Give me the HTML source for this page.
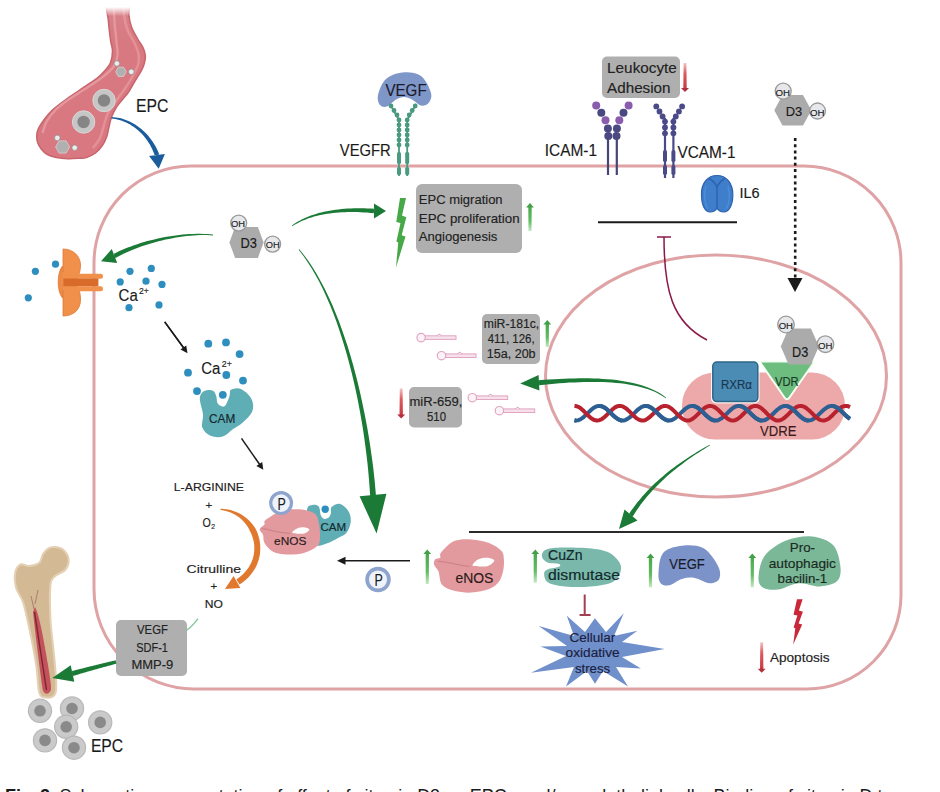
<!DOCTYPE html>
<html><head><meta charset="utf-8"><style>
html,body{margin:0;padding:0;background:#fff;width:940px;height:792px;overflow:hidden}
svg{display:block;font-family:"Liberation Sans",sans-serif}
</style></head><body>
<svg width="940" height="792" viewBox="0 0 940 792">

<defs>
 <linearGradient id="gup" x1="0" y1="0" x2="0" y2="1">
  <stop offset="0" stop-color="#4aa84c"/><stop offset="0.6" stop-color="#62bc62"/><stop offset="1" stop-color="#c4e8c4"/>
 </linearGradient>
 <linearGradient id="rdown" x1="0" y1="0" x2="0" y2="1">
  <stop offset="0" stop-color="#f4c4c4"/><stop offset="0.4" stop-color="#dc5a5e"/><stop offset="1" stop-color="#c83a42"/>
 </linearGradient>
 <linearGradient id="vessel" x1="0" y1="0" x2="0" y2="1">
  <stop offset="0" stop-color="#d8868d"/><stop offset="0.3" stop-color="#d87880"/><stop offset="1" stop-color="#d97880"/>
 </linearGradient>
 <linearGradient id="fadeTop" x1="0" y1="0" x2="0" y2="1">
  <stop offset="0" stop-color="#fff" stop-opacity="1"/><stop offset="1" stop-color="#fff" stop-opacity="0"/>
 </linearGradient>
</defs>
<path d="M94,263 A97,97 0 0 1 191,166 L804,166 A97,97 0 0 1 901,263 L901,595 A94,94 0 0 1 807,689 L194,689 A100,100 0 0 1 94,589 Z" fill="none" stroke="#dfa3a5" stroke-width="3"/>
<ellipse cx="716" cy="376" rx="170.5" ry="121" fill="none" stroke="#dfa3a5" stroke-width="3"/>
<path d="M107.3,0 C103.9,3.3 107.8,13.3 108.3,20 C108.8,26.7 109.8,34.8 110.5,40 C111.2,45.2 112.5,47.2 112.5,51 C112.5,54.8 111.7,59.5 110.5,62.7 C109.3,65.9 107.4,67.8 105.2,70.3 C103,72.8 100.1,75.8 97.6,77.9 C95.1,80.1 93.1,81.1 90,83.2 C86.9,85.3 83.2,87.6 79,90.5 C74.8,93.4 68.9,97.3 64.5,100.5 C60.1,103.7 55.9,106.8 52.7,109.8 C49.5,112.8 47.6,115 45.2,118.2 C42.8,121.4 39.7,125.9 38.3,128.8 C36.9,131.7 36.9,133.3 36.8,135.6 C36.7,137.9 36.8,140.1 37.6,142.4 C38.4,144.7 39.8,147.2 41.4,149.2 C43,151.2 44.9,153.1 47.4,154.5 C49.9,155.9 53.1,156.9 56.5,157.6 C59.9,158.3 64.1,158.6 67.9,158.7 C71.7,158.8 76.1,158.5 79.2,158.3 C82.3,158.1 83.7,158.5 86.4,157.6 C89.1,156.7 92.8,155 95.5,153 C98.2,151 100.4,148.3 102.3,145.5 C104.2,142.7 105.7,139.6 106.8,136.4 C107.9,133.2 108.3,129.7 109.1,126.5 C109.9,123.3 110.3,120.4 111.4,117.4 C112.5,114.4 113.8,111.5 115.6,108.5 C117.4,105.5 120.5,102.1 122.5,99.5 C124.5,96.9 126.2,95.3 127.9,93 C129.6,90.7 130.9,88 132.4,85.5 C133.9,83 135.5,80.4 137,77.9 C138.5,75.4 140.2,72.8 141.5,70.3 C142.8,67.8 143.9,65.2 144.5,62.7 C145.1,60.2 145.6,57.7 145.3,55.2 C145.1,52.7 144.2,50.2 143,47.6 C141.8,45 139.9,42.9 138,39.5 C136.1,36.1 133,31.2 131.5,27 C130,22.8 129.2,18.5 128.8,14 C128.4,9.5 132.4,2.3 128.8,0 C125.2,-2.3 110.7,-3.3 107.3,0Z" fill="url(#vessel)" stroke="#c8646c" stroke-width="1.5"/>
<path d="M113.5,0 C113.7,3.7 114,15 114.5,22 C115,29 116,36.5 116.5,42 C117,47.5 117.9,51 117.5,55 C117.1,59 116.2,62.5 114,66 C111.8,69.5 108.3,72.5 104,76 C99.7,79.5 93.7,83.2 88,87 C82.3,90.8 75.3,94.8 70,98.5 C64.7,102.2 59.8,105.8 56,109.5 C52.2,113.2 49.2,117.1 47,121 C44.8,124.9 43.2,131 42.5,133" fill="none" stroke="#eba4a9" stroke-width="2.4" opacity="0.7"/>
<path d="M123.5,0 C123.6,2.5 123.3,10 124,15 C124.7,20 125.8,25.5 127.5,30 C129.2,34.5 132.2,38 134,42 C135.8,46 137.8,50.2 138.5,54 C139.2,57.8 139.2,60.8 138,65 C136.8,69.2 133.3,74.8 131,79 C128.7,83.2 126.5,86.3 124,90 C121.5,93.7 118.7,97.2 116,101 C113.3,104.8 110,109 108,113 C106,117 105.3,120.8 104,125 C102.7,129.2 101.8,134.2 100,138 C98.2,141.8 94.2,146.3 93,148" fill="none" stroke="#e99ca2" stroke-width="2.6" opacity="0.65"/>
<rect x="100" y="0" width="50" height="7" fill="#fff"/>
<rect x="100" y="7" width="50" height="9" fill="url(#fadeTop)"/>
<circle cx="104" cy="100.5" r="11.2" fill="#c6c6c6" stroke="#d8d8d8" stroke-width="1"/>
<circle cx="104" cy="100.5" r="6.2" fill="#858585"/>
<circle cx="83.6" cy="122" r="11.2" fill="#c6c6c6" stroke="#d8d8d8" stroke-width="1"/>
<circle cx="83.6" cy="122" r="6.2" fill="#858585"/>
<path d="M115.7,71.8 l2.6,-4.6 l5.3,0 l2.6,4.6 l-2.6,4.6 l-5.3,0 Z" fill="#b0b0b0" stroke="#d4d4d4" stroke-width="0.8"/>
<circle cx="116.9" cy="63.5" r="2.8" fill="#ececec" stroke="#888" stroke-width="0.7"/>
<circle cx="131.3" cy="71.8" r="2.8" fill="#ececec" stroke="#888" stroke-width="0.7"/>
<path d="M55.6,147 l3.5,-6.1 l7,0 l3.5,6.1 l-3.5,6.1 l-7,0 Z" fill="#b0b0b0" stroke="#d4d4d4" stroke-width="0.8"/>
<circle cx="57.3" cy="137.9" r="2.8" fill="#ececec" stroke="#888" stroke-width="0.7"/>
<circle cx="74.7" cy="147.7" r="2.8" fill="#ececec" stroke="#888" stroke-width="0.7"/>
<text x="136" y="111.6" font-size="19" fill="#1a1a1a" stroke="#1a1a1a" stroke-width="0.15" textLength="32.3" lengthAdjust="spacingAndGlyphs" >EPC</text>
<path d="M111.5,118.5 L113.5,118.8 L115.4,119.1 L117.4,119.5 L119.3,120 L121.2,120.5 L123.1,121.2 L124.9,122 L126.7,122.8 L128.5,123.7 L130.2,124.6 L131.9,125.7 L133.6,126.8 L135.2,128 L136.8,129.2 L138.3,130.5 L139.8,131.9 L141.3,133.3 L142.7,134.8 L144,136.3 L145.3,137.9 L146.5,139.5 L147.7,141.2 L148.8,142.9 L149.9,144.6 L150.8,146.4 L151.8,148.2 L152.6,150.1 L153.4,151.9 L154.2,153.8 L154.8,155.8 L159.2,154.2 L158.4,152.2 L157.5,150.2 L156.5,148.2 L155.5,146.3 L154.4,144.4 L153.2,142.5 L152,140.7 L150.7,139 L149.4,137.3 L148,135.6 L146.6,134 L145.1,132.4 L143.5,131 L141.9,129.5 L140.3,128.2 L138.6,126.9 L136.9,125.7 L135.1,124.5 L133.3,123.4 L131.5,122.4 L129.6,121.5 L127.7,120.7 L125.7,119.9 L123.8,119.2 L121.8,118.6 L119.8,118.1 L117.7,117.7 L115.7,117.4 L113.6,117.2 L111.5,117.1Z M158.7,168.8 L149.1,156 L164.9,154 Z" fill="#1a5c9c" />
<path d="M63,249 C74,249 80.5,257 80.5,265 C80.5,270 79.5,273 78.5,275 L63,275 Z" fill="#f0904a" stroke="#e07a38" stroke-width="0.8"/>
<path d="M63,288 L78.5,288 C80,292 80.5,296 80.5,300 C80.5,309 74,316 63,316 Z" fill="#f0904a" stroke="#e07a38" stroke-width="0.8"/>
<path d="M62.5,266 C57,272 56.5,291 62.5,298 Z" fill="#ec8a46" stroke="#e07a38" stroke-width="0.8"/>
<rect x="62.5" y="272" width="15" height="18" fill="#f0904a"/>
<rect x="74" y="273.8" width="29" height="5" rx="2.5" fill="#f0904a"/>
<rect x="74" y="286.2" width="29" height="5" rx="2.5" fill="#f0904a"/>
<rect x="63.4" y="278.5" width="35" height="7.7" fill="#d86a2a"/>
<circle cx="35.4" cy="271.3" r="3.6" fill="#2e8fbf"/>
<circle cx="55.5" cy="264.2" r="3.6" fill="#2e8fbf"/>
<circle cx="28.3" cy="297.8" r="3.6" fill="#2e8fbf"/>
<circle cx="130" cy="271.3" r="3.6" fill="#2e8fbf"/>
<circle cx="151.3" cy="268.4" r="3.6" fill="#2e8fbf"/>
<circle cx="120.2" cy="281.9" r="3.6" fill="#2e8fbf"/>
<circle cx="146" cy="281.2" r="3.6" fill="#2e8fbf"/>
<circle cx="162" cy="284.4" r="3.6" fill="#2e8fbf"/>
<circle cx="129" cy="307.7" r="3.6" fill="#2e8fbf"/>
<circle cx="159" cy="304.9" r="3.6" fill="#2e8fbf"/>
<text x="118.6" y="301" font-size="17" fill="#1a1a1a" stroke="#1a1a1a" stroke-width="0.15" textLength="19.2" lengthAdjust="spacingAndGlyphs" >Ca</text>
<text x="139" y="293.7" font-size="9.5" fill="#1a1a1a" stroke="#1a1a1a" stroke-width="0.15" textLength="9.8" lengthAdjust="spacingAndGlyphs" >2+</text>
<path d="M229.4,242.5 L235.1,227.1 L257.9,227.1 L263.6,242.5 L257.9,257.9 L235.1,257.9 Z" fill="#ababab"/>
<circle cx="238.7" cy="223.1" r="8" fill="#e6e8ec" stroke="#9a9a9a" stroke-width="1.3"/>
<text x="231" y="227.4" font-size="9.4" fill="#1a1a1a" stroke="#1a1a1a" stroke-width="0.15" textLength="14.1" lengthAdjust="spacingAndGlyphs" >OH</text>
<circle cx="272.6" cy="244.1" r="8" fill="#e6e8ec" stroke="#9a9a9a" stroke-width="1.3"/>
<text x="265.8" y="247.8" font-size="9.4" fill="#1a1a1a" stroke="#1a1a1a" stroke-width="0.15" textLength="13.9" lengthAdjust="spacingAndGlyphs" >OH</text>
<text x="240.5" y="247.8" font-size="13.8" fill="#1a1a1a" stroke="#1a1a1a" stroke-width="0.15" textLength="16.4" lengthAdjust="spacingAndGlyphs" >D3</text>
<path d="M774.3,110.2 L782.5,94.9 L803,94.9 L811.3,110.2 L803,125.5 L782.5,125.5 Z" fill="#ababab"/>
<circle cx="783.2" cy="91.2" r="8" fill="#e6e8ec" stroke="#9a9a9a" stroke-width="1.3"/>
<text x="775.6" y="95.5" font-size="9.4" fill="#1a1a1a" stroke="#1a1a1a" stroke-width="0.15" textLength="14.5" lengthAdjust="spacingAndGlyphs" >OH</text>
<circle cx="817.5" cy="111" r="8" fill="#e6e8ec" stroke="#9a9a9a" stroke-width="1.3"/>
<text x="809.9" y="115.6" font-size="9.4" fill="#1a1a1a" stroke="#1a1a1a" stroke-width="0.15" textLength="14.5" lengthAdjust="spacingAndGlyphs" >OH</text>
<text x="785.8" y="115.6" font-size="13.3" fill="#1a1a1a" stroke="#1a1a1a" stroke-width="0.15" textLength="16.5" lengthAdjust="spacingAndGlyphs" >D3</text>
<path d="M213,234.6 L209.9,234.3 L206.7,234 L203.4,233.9 L200.1,233.8 L196.7,233.8 L193.3,233.9 L189.8,234.1 L186.3,234.3 L182.8,234.6 L179.2,235 L175.7,235.4 L172.1,235.9 L168.5,236.5 L165,237.1 L161.4,237.8 L157.9,238.6 L154.3,239.4 L150.9,240.2 L147.4,241.1 L144,242.1 L140.6,243.1 L137.3,244.2 L134.1,245.3 L130.9,246.4 L127.8,247.6 L124.7,248.8 L121.8,250.1 L118.9,251.3 L116.1,252.7 L113.4,254 L115.6,258 L118.1,256.6 L120.7,255.2 L123.5,253.8 L126.3,252.5 L129.2,251.2 L132.2,249.9 L135.3,248.7 L138.5,247.5 L141.7,246.3 L145,245.2 L148.3,244.2 L151.7,243.2 L155.1,242.2 L158.5,241.3 L162,240.4 L165.5,239.6 L169,238.9 L172.5,238.2 L176,237.6 L179.5,237 L183,236.5 L186.5,236.1 L189.9,235.7 L193.3,235.5 L196.7,235.2 L200.1,235.1 L203.4,235.1 L206.6,235.1 L209.8,235.2 L213,235.4Z M101,261.3 L111.8,249 L117.2,263 Z" fill="#1b7a36" />
<path d="M292.2,226.3 L294.1,225.1 L296,224 L298,222.9 L300.1,221.8 L302.3,220.8 L304.5,219.9 L306.8,219 L309.1,218.1 L311.5,217.4 L314,216.6 L316.5,216 L319.1,215.3 L321.8,214.8 L324.5,214.3 L327.2,213.8 L330,213.4 L332.9,213 L335.8,212.7 L338.8,212.5 L341.8,212.3 L344.8,212.2 L347.9,212.1 L351,212 L354.2,212 L357.4,212.1 L360.6,212.2 L363.8,212.4 L367.1,212.6 L370.5,212.9 L373.8,213.2 L374.2,208.8 L370.8,208.5 L367.4,208.4 L364,208.3 L360.7,208.2 L357.4,208.2 L354.1,208.3 L350.9,208.4 L347.7,208.6 L344.6,208.8 L341.5,209 L338.5,209.4 L335.5,209.7 L332.5,210.2 L329.6,210.7 L326.8,211.2 L324,211.8 L321.2,212.4 L318.6,213.1 L316,213.9 L313.4,214.7 L310.9,215.6 L308.5,216.5 L306.1,217.4 L303.9,218.5 L301.7,219.5 L299.5,220.7 L297.5,221.8 L295.5,223.1 L293.6,224.3 L291.8,225.7Z M386,211 L374,218.5 L374,203.5 Z" fill="#1b7a36" />
<path d="M298.7,249.8 L303.1,255.5 L307.4,261.7 L311.6,268.2 L315.5,275 L319.4,282.1 L323.1,289.5 L326.6,297.2 L330,305.1 L333.3,313.3 L336.4,321.6 L339.3,330.1 L342.1,338.7 L344.8,347.5 L347.4,356.4 L349.8,365.4 L352.1,374.4 L354.2,383.5 L356.2,392.6 L358.1,401.7 L359.8,410.7 L361.4,419.8 L362.9,428.7 L364.2,437.6 L365.4,446.3 L366.5,454.9 L367.5,463.4 L368.3,471.7 L369,479.7 L369.6,487.6 L370.1,495.2 L375.9,494.8 L375.2,487.1 L374.5,479.2 L373.6,471.1 L372.6,462.8 L371.4,454.3 L370.2,445.7 L368.8,436.9 L367.3,428 L365.6,419 L363.8,410 L361.9,400.9 L359.9,391.8 L357.7,382.6 L355.4,373.6 L353,364.5 L350.4,355.5 L347.7,346.6 L344.8,337.9 L341.8,329.2 L338.7,320.7 L335.4,312.4 L332,304.3 L328.4,296.4 L324.7,288.7 L320.8,281.4 L316.8,274.3 L312.7,267.5 L308.4,261 L303.9,255 L299.3,249.2Z M376.6,533.5 L359.6,496.3 L386.4,493.7 Z" fill="#1b7a36" />
<path d="M380,105 C378.5,103.1 377,99.3 378,95 C379,90.7 381.9,82.8 386,79 C390.1,75.2 396.9,73 402.7,72.5 C408.5,72 416.3,72.6 421,76 C425.7,79.4 429.8,88.5 431,93 C432.2,97.5 430.2,100.9 428.5,103 C426.8,105.1 423.8,106.1 421,105.5 C418.2,104.9 414.8,100.9 412,99.5 C409.2,98.1 406.7,97 404,97 C401.3,97 398.8,97.9 396,99.5 C393.2,101.1 389.7,105.6 387,106.5 C384.3,107.4 381.5,106.9 380,105Z" fill="#7f96c8"/>
<text x="385.4" y="95.9" font-size="16.6" fill="#1a1a2a" stroke="#1a1a2a" stroke-width="0.15" textLength="41.3" lengthAdjust="spacingAndGlyphs" >VEGF</text>
<path d="M390,104 L399,120 L399,176 M416.2,104 L407.2,120 L407.2,176" fill="none" stroke="#4a9a80" stroke-width="1.8"/>
<circle cx="391" cy="106" r="2.4" fill="#4a9a80"/>
<circle cx="415.2" cy="106" r="2.4" fill="#4a9a80"/>
<circle cx="394" cy="110.5" r="2.4" fill="#4a9a80"/>
<circle cx="412.2" cy="110.5" r="2.4" fill="#4a9a80"/>
<circle cx="397" cy="115" r="2.4" fill="#4a9a80"/>
<circle cx="409.2" cy="115" r="2.4" fill="#4a9a80"/>
<circle cx="399" cy="120" r="2.4" fill="#4a9a80"/>
<circle cx="407.2" cy="120" r="2.4" fill="#4a9a80"/>
<circle cx="399" cy="125" r="2.4" fill="#4a9a80"/>
<circle cx="407.2" cy="125" r="2.4" fill="#4a9a80"/>
<circle cx="399" cy="130" r="2.4" fill="#4a9a80"/>
<circle cx="407.2" cy="130" r="2.4" fill="#4a9a80"/>
<circle cx="399" cy="135" r="2.4" fill="#4a9a80"/>
<circle cx="407.2" cy="135" r="2.4" fill="#4a9a80"/>
<circle cx="399" cy="140" r="2.4" fill="#4a9a80"/>
<circle cx="407.2" cy="140" r="2.4" fill="#4a9a80"/>
<circle cx="399" cy="145" r="2.4" fill="#4a9a80"/>
<circle cx="407.2" cy="145" r="2.4" fill="#4a9a80"/>
<rect x="397" y="152" width="4" height="12" rx="1.5" fill="#4a9a80"/>
<rect x="397" y="167" width="4" height="8" rx="1.5" fill="#4a9a80"/>
<rect x="405.2" y="152" width="4" height="12" rx="1.5" fill="#4a9a80"/>
<rect x="405.2" y="167" width="4" height="8" rx="1.5" fill="#4a9a80"/>
<text x="339.8" y="156" font-size="16" fill="#1a1a1a" stroke="#1a1a1a" stroke-width="0.15" textLength="51" lengthAdjust="spacingAndGlyphs" >VEGFR</text>
<rect x="416" y="184" width="106" height="69" rx="6" fill="#afafaf"/>
<text x="418.8" y="203.8" font-size="13" fill="#222" stroke="#222" stroke-width="0.15" textLength="83.8" lengthAdjust="spacingAndGlyphs" >EPC migration</text>
<text x="418.8" y="222.5" font-size="13" fill="#222" stroke="#222" stroke-width="0.15" textLength="100.8" lengthAdjust="spacingAndGlyphs" >EPC proliferation</text>
<text x="418.8" y="240.7" font-size="13" fill="#222" stroke="#222" stroke-width="0.15" textLength="78.6" lengthAdjust="spacingAndGlyphs" >Angiogenesis</text>
<path d="M400.0,198.0 L406.0,198.0 L402.0,215.4 L406.3,217.3 L401.7,235.3 L405.5,236.6 L396.0,267.5 L398.2,242.4 L396.4,241.5 L400.5,223.1 L396.3,221.9 Z" fill="#46a846"/>
<path d="M528.3,206.5 L531.7,206.5 L531.5,231 L528.5,231 Z" fill="url(#gup)"/>
<path d="M526.1,207.5 L530,203 L533.9,207.5 Z" fill="#44a048"/>
<rect x="602" y="56.5" width="78" height="41.5" rx="5" fill="#afafaf"/>
<text x="607.1" y="72.6" font-size="14.2" fill="#222" stroke="#222" stroke-width="0.15" textLength="69.8" lengthAdjust="spacingAndGlyphs" >Leukocyte</text>
<text x="607.1" y="92.6" font-size="14.2" fill="#222" stroke="#222" stroke-width="0.15" textLength="63.4" lengthAdjust="spacingAndGlyphs" >Adhesion</text>
<path d="M683.6,63 L686.4,63 L686.7,88.5 L683.3,88.5 Z" fill="url(#rdown)"/>
<path d="M681,88 L685,92 L689,88 Z" fill="#b03040"/>
<path d="M608,138 L608,175 M616.8,138 L616.8,175" stroke="#45457a" stroke-width="2.2"/>
<circle cx="596.2" cy="105.4" r="4" fill="#8a5cae"/>
<circle cx="628.6" cy="105.4" r="4" fill="#8a5cae"/>
<circle cx="601.3" cy="112.7" r="4" fill="#4a4880"/>
<circle cx="623.5" cy="112.7" r="4" fill="#4a4880"/>
<circle cx="605.5" cy="120.2" r="4" fill="#8a5cae"/>
<circle cx="619.3" cy="120.2" r="4" fill="#8a5cae"/>
<circle cx="607.9" cy="128.4" r="4" fill="#4a4880"/>
<circle cx="616.9" cy="128.4" r="4" fill="#4a4880"/>
<circle cx="608.3" cy="136.1" r="4" fill="#4a4880"/>
<circle cx="616.5" cy="136.1" r="4" fill="#4a4880"/>
<text x="544.8" y="155.6" font-size="16.6" fill="#1a1a1a" stroke="#1a1a1a" stroke-width="0.15" textLength="52.3" lengthAdjust="spacingAndGlyphs" >ICAM-1</text>
<path d="M665,118 L665,178 M673.4,118 L673.4,178" stroke="#4a4a88" stroke-width="2.2"/>
<circle cx="656.3" cy="106.4" r="2.9" fill="#4a4a88"/>
<circle cx="682.1" cy="106.4" r="2.9" fill="#4a4a88"/>
<circle cx="659.5" cy="111.5" r="2.9" fill="#4a4a88"/>
<circle cx="678.9" cy="111.5" r="2.9" fill="#4a4a88"/>
<circle cx="662.6" cy="116.5" r="2.9" fill="#4a4a88"/>
<circle cx="675.8" cy="116.5" r="2.9" fill="#4a4a88"/>
<circle cx="665" cy="121.6" r="2.9" fill="#4a4a88"/>
<circle cx="673.4" cy="121.6" r="2.9" fill="#4a4a88"/>
<circle cx="665" cy="127.4" r="2.9" fill="#4a4a88"/>
<circle cx="673.4" cy="127.4" r="2.9" fill="#4a4a88"/>
<circle cx="665" cy="133.3" r="2.9" fill="#4a4a88"/>
<circle cx="673.4" cy="133.3" r="2.9" fill="#4a4a88"/>
<rect x="663" y="150" width="4" height="12" rx="1.8" fill="#4a4a88"/>
<rect x="663" y="165" width="4" height="10" rx="1.8" fill="#4a4a88"/>
<rect x="671.4" y="150" width="4" height="12" rx="1.8" fill="#4a4a88"/>
<rect x="671.4" y="165" width="4" height="10" rx="1.8" fill="#4a4a88"/>
<text x="677.4" y="158" font-size="16.6" fill="#1a1a1a" stroke="#1a1a1a" stroke-width="0.15" textLength="58.1" lengthAdjust="spacingAndGlyphs" >VCAM-1</text>
<path d="M701.5,195 C701,183 708,175.5 717,175.5 C726,175.5 733,183 732.8,195 C732.8,205 729,212 724,212 C720,212 718,210 717,208 C716,210 714,212 710,212 C705,212 701.5,205 701.5,195 Z" fill="#3f7ecb" stroke="#2d62ad" stroke-width="1.2"/>
<path d="M717,208 L717,187 M709,178.5 C712,180 715,183 717,187 C719,183 722,180 725,178.5" fill="none" stroke="#2d62ad" stroke-width="1.4"/>
<path d="M706,186 C704,194 704,203 708,209 M728,186 C730,194 730,203 726,209" fill="none" stroke="#5a9ae0" stroke-width="1.3" opacity="0.6"/>
<text x="739.4" y="198.4" font-size="13.8" fill="#1a1a1a" stroke="#1a1a1a" stroke-width="0.15" textLength="20.1" lengthAdjust="spacingAndGlyphs" >IL6</text>
<path d="M598,222.3 L737,222.3" stroke="#1a1a1a" stroke-width="2"/>
<path d="M664,237 C664,290 672,322 707,340" fill="none" stroke="#8a1848" stroke-width="1.5"/>
<path d="M657,237 L671,237" stroke="#8a1848" stroke-width="1.5"/>
<path d="M795.2,138 L795.2,278" stroke="#1a1a1a" stroke-width="2.6" stroke-dasharray="3,3.2"/>
<path d="M787.5,278 L802.5,278 L795,292 Z" fill="#1a1a1a"/>
<rect x="682" y="372.5" width="163" height="67" rx="33" fill="#eda8aa"/>
<path d="M574.5,420.3 L575.5,420.5 L576.5,420.5 L577.5,420.4 L578.5,420.1 L579.5,419.7 L580.5,419.2 L581.5,418.6 L582.5,417.9 L583.5,417.1 L584.5,416.2 L585.5,415.3 L586.5,414.3 L587.5,413.3 L588.5,412.4 L589.5,411.4 L590.5,410.5 L591.5,409.6 L592.5,408.7 L593.5,408 L594.5,407.4 L595.5,406.8 L596.5,406.4 L597.5,406.1 L598.5,405.9 L599.5,405.9 L600.5,406 L601.5,406.2 L602.6,406.6 L603.6,407.1 L604.6,407.7 L605.6,408.4 L606.6,409.1 L607.6,410 L608.6,410.9 L609.6,411.9 L610.6,412.8 L611.6,413.8 L612.6,414.8 L613.6,415.8 L614.6,416.7 L615.6,417.5 L616.6,418.2 L617.6,418.9 L618.6,419.5 L619.6,419.9 L620.6,420.2 L621.6,420.4 L622.6,420.5 L623.6,420.4 L624.6,420.2 L625.6,419.9 L626.6,419.4 L627.6,418.9 L628.6,418.2 L629.6,417.4 L630.6,416.6 L631.6,415.7 L632.6,414.7 L633.6,413.8 L634.6,412.8 L635.6,411.8 L636.6,410.8 L637.6,409.9 L638.6,409.1 L639.6,408.3 L640.6,407.6 L641.6,407 L642.6,406.6 L643.6,406.2 L644.6,406 L645.6,405.9 L646.6,405.9 L647.6,406.1 L648.6,406.4 L649.6,406.9 L650.6,407.4 L651.6,408.1 L652.6,408.8 L653.6,409.6 L654.6,410.5 L655.6,411.5 L656.6,412.4 L657.7,413.4 L658.7,414.4 L659.7,415.4 L660.7,416.3 L661.7,417.2 L662.7,417.9 L663.7,418.6 L664.7,419.3 L665.7,419.7 L666.7,420.1 L667.7,420.4 L668.7,420.5 L669.7,420.5 L670.7,420.3 L671.7,420 L672.7,419.6 L673.7,419.1 L674.7,418.5 L675.7,417.8 L676.7,416.9 L677.7,416.1 L678.7,415.1 L679.7,414.2 L680.7,413.2 L681.7,412.2 L682.7,411.2 L683.7,410.3 L684.7,409.4 L685.7,408.6 L686.7,407.9 L687.7,407.3 L688.7,406.7 L689.7,406.3 L690.7,406.1 L691.7,405.9 L692.7,405.9 L693.7,406 L694.7,406.3 L695.7,406.7 L696.7,407.2 L697.7,407.8 L698.7,408.5 L699.7,409.3 L700.7,410.1 L701.7,411.1 L702.7,412 L703.7,413 L704.7,414 L705.7,415 L706.7,415.9 L707.7,416.8 L708.7,417.6 L709.7,418.4 L710.7,419 L711.7,419.6 L712.8,420 L713.8,420.3 L714.8,420.5 L715.8,420.5 L716.8,420.4 L717.8,420.2 L718.8,419.8 L719.8,419.3 L720.8,418.8 L721.8,418.1 L722.8,417.3 L723.8,416.4 L724.8,415.5 L725.8,414.6 L726.8,413.6 L727.8,412.6 L728.8,411.6 L729.8,410.7 L730.8,409.8 L731.8,408.9 L732.8,408.2 L733.8,407.5 L734.8,406.9 L735.8,406.5 L736.8,406.2 L737.8,406 L738.8,405.9 L739.8,406 L740.8,406.2 L741.8,406.5 L742.8,406.9 L743.8,407.5 L744.8,408.2 L745.8,408.9 L746.8,409.8 L747.8,410.7 L748.8,411.6 L749.8,412.6 L750.8,413.6 L751.8,414.6 L752.8,415.5 L753.8,416.4 L754.8,417.3 L755.8,418.1 L756.8,418.8 L757.8,419.3 L758.8,419.8 L759.8,420.2 L760.8,420.4 L761.8,420.5 L762.8,420.5 L763.8,420.3 L764.8,420 L765.8,419.6 L766.8,419 L767.9,418.4 L768.9,417.6 L769.9,416.8 L770.9,415.9 L771.9,415 L772.9,414 L773.9,413 L774.9,412 L775.9,411.1 L776.9,410.1 L777.9,409.3 L778.9,408.5 L779.9,407.8 L780.9,407.2 L781.9,406.7 L782.9,406.3 L783.9,406 L784.9,405.9 L785.9,405.9 L786.9,406.1 L787.9,406.3 L788.9,406.7 L789.9,407.3 L790.9,407.9 L791.9,408.6 L792.9,409.4 L793.9,410.3 L794.9,411.2 L795.9,412.2 L796.9,413.2 L797.9,414.2 L798.9,415.1 L799.9,416.1 L800.9,416.9 L801.9,417.8 L802.9,418.5 L803.9,419.1 L804.9,419.6 L805.9,420 L806.9,420.3 L807.9,420.5 L808.9,420.5 L809.9,420.4 L810.9,420.1 L811.9,419.8 L812.9,419.3 L813.9,418.7 L814.9,417.9 L815.9,417.2 L816.9,416.3 L817.9,415.4 L818.9,414.4 L819.9,413.4 L820.9,412.4 L821.9,411.5 L823,410.5 L824,409.6 L825,408.8 L826,408.1 L827,407.4 L828,406.9 L829,406.4 L830,406.1 L831,405.9 L832,405.9 L833,406 L834,406.2 L835,406.6 L836,407 L837,407.6 L838,408.3 L839,409.1 L840,409.9 L841,410.8 L842,411.8 L843,412.8 L844,413.8 L845,414.7 L846,415.7 L847,416.6 L848,417.4 L849,418.2 L850,418.9" fill="none" stroke="#2d5f92" stroke-width="4.0"/>
<path d="M574.5,405.9 L575.5,406 L576.5,406.2 L577.5,406.5 L578.5,407 L579.5,407.5 L580.5,408.2 L581.5,409 L582.5,409.9 L583.5,410.8 L584.5,411.8 L585.5,412.8 L586.5,413.8 L587.5,414.8 L588.5,415.8 L589.5,416.7 L590.5,417.6 L591.5,418.3 L592.5,419 L593.5,419.6 L594.5,420 L595.5,420.3 L596.5,420.5 L597.5,420.5 L598.5,420.4 L599.5,420.1 L600.5,419.7 L601.5,419.2 L602.6,418.6 L603.6,417.8 L604.6,417 L605.6,416.1 L606.6,415.1 L607.6,414.2 L608.6,413.1 L609.6,412.1 L610.6,411.1 L611.6,410.2 L612.6,409.3 L613.6,408.5 L614.6,407.7 L615.6,407.1 L616.6,406.6 L617.6,406.2 L618.6,406 L619.6,405.9 L620.6,405.9 L621.6,406.1 L622.6,406.4 L623.6,406.9 L624.6,407.5 L625.6,408.1 L626.6,408.9 L627.6,409.8 L628.6,410.7 L629.6,411.7 L630.6,412.7 L631.6,413.7 L632.6,414.7 L633.6,415.7 L634.6,416.6 L635.6,417.5 L636.6,418.3 L637.6,418.9 L638.6,419.5 L639.6,420 L640.6,420.3 L641.6,420.5 L642.6,420.5 L643.6,420.4 L644.6,420.2 L645.6,419.8 L646.6,419.3 L647.6,418.7 L648.6,417.9 L649.6,417.1 L650.6,416.2 L651.6,415.3 L652.6,414.3 L653.6,413.3 L654.6,412.2 L655.6,411.2 L656.6,410.3 L657.7,409.4 L658.7,408.6 L659.7,407.8 L660.7,407.2 L661.7,406.7 L662.7,406.3 L663.7,406 L664.7,405.9 L665.7,405.9 L666.7,406.1 L667.7,406.4 L668.7,406.8 L669.7,407.4 L670.7,408.1 L671.7,408.8 L672.7,409.7 L673.7,410.6 L674.7,411.6 L675.7,412.6 L676.7,413.6 L677.7,414.6 L678.7,415.6 L679.7,416.5 L680.7,417.4 L681.7,418.2 L682.7,418.9 L683.7,419.5 L684.7,419.9 L685.7,420.2 L686.7,420.4 L687.7,420.5 L688.7,420.4 L689.7,420.2 L690.7,419.8 L691.7,419.3 L692.7,418.7 L693.7,418 L694.7,417.2 L695.7,416.3 L696.7,415.4 L697.7,414.4 L698.7,413.4 L699.7,412.4 L700.7,411.4 L701.7,410.4 L702.7,409.5 L703.7,408.7 L704.7,407.9 L705.7,407.3 L706.7,406.7 L707.7,406.3 L708.7,406 L709.7,405.9 L710.7,405.9 L711.7,406.1 L712.8,406.4 L713.8,406.8 L714.8,407.3 L715.8,408 L716.8,408.7 L717.8,409.6 L718.8,410.5 L719.8,411.5 L720.8,412.5 L721.8,413.5 L722.8,414.5 L723.8,415.5 L724.8,416.4 L725.8,417.3 L726.8,418.1 L727.8,418.8 L728.8,419.4 L729.8,419.9 L730.8,420.2 L731.8,420.4 L732.8,420.5 L733.8,420.4 L734.8,420.2 L735.8,419.9 L736.8,419.4 L737.8,418.8 L738.8,418.1 L739.8,417.3 L740.8,416.4 L741.8,415.5 L742.8,414.5 L743.8,413.5 L744.8,412.5 L745.8,411.5 L746.8,410.5 L747.8,409.6 L748.8,408.7 L749.8,408 L750.8,407.3 L751.8,406.8 L752.8,406.4 L753.8,406.1 L754.8,405.9 L755.8,405.9 L756.8,406 L757.8,406.3 L758.8,406.7 L759.8,407.2 L760.8,407.9 L761.8,408.6 L762.8,409.5 L763.8,410.4 L764.8,411.3 L765.8,412.3 L766.8,413.4 L767.9,414.4 L768.9,415.4 L769.9,416.3 L770.9,417.2 L771.9,418 L772.9,418.7 L773.9,419.3 L774.9,419.8 L775.9,420.2 L776.9,420.4 L777.9,420.5 L778.9,420.4 L779.9,420.3 L780.9,419.9 L781.9,419.5 L782.9,418.9 L783.9,418.2 L784.9,417.4 L785.9,416.5 L786.9,415.6 L787.9,414.6 L788.9,413.6 L789.9,412.6 L790.9,411.6 L791.9,410.6 L792.9,409.7 L793.9,408.8 L794.9,408.1 L795.9,407.4 L796.9,406.8 L797.9,406.4 L798.9,406.1 L799.9,405.9 L800.9,405.9 L801.9,406 L802.9,406.3 L803.9,406.7 L804.9,407.2 L805.9,407.8 L806.9,408.5 L807.9,409.4 L808.9,410.3 L809.9,411.2 L810.9,412.2 L811.9,413.2 L812.9,414.2 L813.9,415.2 L814.9,416.2 L815.9,417.1 L816.9,417.9 L817.9,418.6 L818.9,419.3 L819.9,419.8 L820.9,420.1 L821.9,420.4 L823,420.5 L824,420.5 L825,420.3 L826,420 L827,419.5 L828,419 L829,418.3 L830,417.5 L831,416.6 L832,415.7 L833,414.7 L834,413.7 L835,412.7 L836,411.7 L837,410.7 L838,409.8 L839,408.9 L840,408.2 L841,407.5 L842,406.9 L843,406.5 L844,406.1 L845,405.9 L846,405.9 L847,406 L848,406.2 L849,406.6 L850,407.1" fill="none" stroke="#b8222e" stroke-width="4.0"/>
<path d="M574.5,420.3 L575.3,420.5 L576,420.5" fill="none" stroke="#2d5f92" stroke-width="4.0"/>
<path d="M599.3,405.9 L600.3,406 L601.3,406.2 L602.3,406.5 L603.3,407 L604.4,407.5 L605.4,408.2 L606.4,409 L607.4,409.8 L608.4,410.8 L609.4,411.7 L610.4,412.7 L611.4,413.7 L612.4,414.7 L613.5,415.6 L614.5,416.6 L615.5,417.4 L616.5,418.2 L617.5,418.9 L618.5,419.4 L619.5,419.9 L620.5,420.2 L621.5,420.4 L622.5,420.5" fill="none" stroke="#2d5f92" stroke-width="4.0"/>
<path d="M645.8,405.9 L646.8,406 L647.8,406.2 L648.8,406.5 L649.8,407 L650.9,407.5 L651.9,408.2 L652.9,409 L653.9,409.8 L654.9,410.8 L655.9,411.7 L656.9,412.7 L657.9,413.7 L658.9,414.7 L660,415.6 L661,416.6 L662,417.4 L663,418.2 L664,418.9 L665,419.4 L666,419.9 L667,420.2 L668,420.4 L669,420.5" fill="none" stroke="#2d5f92" stroke-width="4.0"/>
<path d="M692.3,405.9 L693.3,406 L694.3,406.2 L695.3,406.5 L696.3,407 L697.4,407.5 L698.4,408.2 L699.4,409 L700.4,409.8 L701.4,410.8 L702.4,411.7 L703.4,412.7 L704.4,413.7 L705.4,414.7 L706.5,415.6 L707.5,416.6 L708.5,417.4 L709.5,418.2 L710.5,418.9 L711.5,419.4 L712.5,419.9 L713.5,420.2 L714.5,420.4 L715.5,420.5" fill="none" stroke="#2d5f92" stroke-width="4.0"/>
<path d="M738.8,405.9 L739.8,406 L740.8,406.2 L741.8,406.5 L742.8,407 L743.9,407.5 L744.9,408.2 L745.9,409 L746.9,409.8 L747.9,410.8 L748.9,411.7 L749.9,412.7 L750.9,413.7 L751.9,414.7 L753,415.6 L754,416.6 L755,417.4 L756,418.2 L757,418.9 L758,419.4 L759,419.9 L760,420.2 L761,420.4 L762,420.5" fill="none" stroke="#2d5f92" stroke-width="4.0"/>
<path d="M785.3,405.9 L786.3,406 L787.3,406.2 L788.3,406.5 L789.3,407 L790.4,407.5 L791.4,408.2 L792.4,409 L793.4,409.8 L794.4,410.8 L795.4,411.7 L796.4,412.7 L797.4,413.7 L798.4,414.7 L799.5,415.6 L800.5,416.6 L801.5,417.4 L802.5,418.2 L803.5,418.9 L804.5,419.4 L805.5,419.9 L806.5,420.2 L807.5,420.4 L808.5,420.5" fill="none" stroke="#2d5f92" stroke-width="4.0"/>
<path d="M831.8,405.9 L832.8,406 L833.8,406.2 L834.8,406.5 L835.8,407 L836.9,407.5 L837.9,408.2 L838.9,409 L839.9,409.8 L840.9,410.8 L841.9,411.7 L842.9,412.7 L843.9,413.7 L844.9,414.7 L846,415.6 L847,416.6 L848,417.4 L849,418.2 L850,418.9" fill="none" stroke="#2d5f92" stroke-width="4.0"/>
<rect x="711" y="360.2" width="48.6" height="43.2" rx="5" fill="#fff" opacity="0.85"/>
<rect x="712.8" y="362" width="45" height="39.6" rx="4" fill="#4b8cb5" stroke="#2e6688" stroke-width="1.5"/>
<text x="721" y="388.5" font-size="13" fill="#1a3450" stroke="#1a3450" stroke-width="0.15" textLength="31" lengthAdjust="spacingAndGlyphs" >RXRα</text>
<path d="M759.5,361.5 L814.5,361.5 L789.5,397.5 Q787,401 784.5,397.5 Z" fill="#6dbd7e" stroke="#f4fff4" stroke-width="2" stroke-linejoin="round"/>
<text x="775" y="386" font-size="13" fill="#1a3a28" stroke="#1a3a28" stroke-width="0.15" textLength="23.7" lengthAdjust="spacingAndGlyphs" >VDR</text>
<text x="760" y="436" font-size="14.1" fill="#3a1a1a" stroke="#3a1a1a" stroke-width="0.15" textLength="36.4" lengthAdjust="spacingAndGlyphs" >VDRE</text>
<path d="M780.8,346.5 L788.6,328.4 L811,328.4 L818.8,346.5 L811,364.6 L788.6,364.6 Z" fill="#ababab"/>
<circle cx="786" cy="324.5" r="8.3" fill="#e6e8ec" stroke="#9a9a9a" stroke-width="1.3"/>
<text x="778.7" y="328.7" font-size="9.4" fill="#1a1a1a" stroke="#1a1a1a" stroke-width="0.15" textLength="14.3" lengthAdjust="spacingAndGlyphs" >OH</text>
<circle cx="825.4" cy="344.2" r="8.3" fill="#e6e8ec" stroke="#9a9a9a" stroke-width="1.3"/>
<text x="818" y="348.8" font-size="9.4" fill="#1a1a1a" stroke="#1a1a1a" stroke-width="0.15" textLength="14.4" lengthAdjust="spacingAndGlyphs" >OH</text>
<text x="792" y="356.8" font-size="14.1" fill="#1a1a1a" stroke="#1a1a1a" stroke-width="0.15" textLength="16.2" lengthAdjust="spacingAndGlyphs" >D3</text>
<path d="M666.2,397.7 L663.6,395.7 L660.8,393.8 L657.8,392 L654.7,390.4 L651.4,388.9 L648,387.5 L644.4,386.2 L640.8,385.1 L637,384 L633.1,383 L629.1,382.2 L624.9,381.4 L620.7,380.7 L616.4,380.1 L612,379.6 L607.5,379.2 L602.9,378.9 L598.3,378.6 L593.6,378.5 L588.8,378.3 L584,378.3 L579.1,378.3 L574.2,378.4 L569.2,378.5 L564.2,378.7 L559.2,378.9 L554.1,379.2 L549,379.5 L543.9,379.8 L538.8,380.2 L539.2,385.2 L544.3,384.7 L549.4,384.2 L554.4,383.7 L559.4,383.3 L564.4,383 L569.4,382.6 L574.3,382.4 L579.2,382.2 L584,382 L588.8,381.9 L593.5,381.9 L598.2,382 L602.8,382.1 L607.3,382.3 L611.8,382.5 L616.1,382.9 L620.4,383.3 L624.6,383.8 L628.6,384.5 L632.6,385.2 L636.5,386 L640.3,386.9 L643.9,387.9 L647.4,389 L650.8,390.3 L654.1,391.6 L657.2,393.1 L660.2,394.7 L663.1,396.5 L665.8,398.3Z M520.2,383.6 L538.6,375 L539.4,390.4 Z" fill="#1b7a36" />
<path d="M709.8,444.7 L706.8,446.3 L703.7,448 L700.7,449.8 L697.7,451.6 L694.7,453.4 L691.7,455.3 L688.7,457.2 L685.7,459.2 L682.7,461.2 L679.8,463.2 L676.9,465.3 L674,467.4 L671.1,469.6 L668.3,471.8 L665.5,474.1 L662.8,476.4 L660,478.8 L657.3,481.2 L654.7,483.6 L652.1,486.1 L649.5,488.7 L647,491.3 L644.6,493.9 L642.2,496.6 L639.9,499.4 L637.6,502.1 L635.4,505 L633.2,507.9 L631.1,510.8 L629.1,513.8 L632.9,516.2 L634.8,513.2 L636.7,510.3 L638.7,507.4 L640.7,504.6 L642.9,501.8 L645.1,499 L647.3,496.3 L649.6,493.7 L652,491 L654.4,488.4 L656.9,485.9 L659.4,483.4 L662,480.9 L664.6,478.5 L667.2,476.1 L669.9,473.8 L672.6,471.5 L675.4,469.2 L678.2,467 L681,464.9 L683.9,462.7 L686.7,460.6 L689.6,458.6 L692.5,456.6 L695.4,454.6 L698.4,452.7 L701.3,450.8 L704.3,448.9 L707.2,447.1 L710.2,445.3Z M619,529 L624.5,509.5 L637.5,520.5 Z" fill="#1b7a36" />
<rect x="482" y="314" width="58" height="50" rx="5" fill="#afafaf"/>
<text x="511.5" y="327.5" font-size="12" fill="#222" stroke="#222" stroke-width="0.15" text-anchor="middle" textLength="55.5" lengthAdjust="spacingAndGlyphs" >miR-181c,</text>
<text x="511.2" y="342.9" font-size="12" fill="#222" stroke="#222" stroke-width="0.15" text-anchor="middle" textLength="47" lengthAdjust="spacingAndGlyphs" >411, 126,</text>
<text x="511.2" y="357.9" font-size="12" fill="#222" stroke="#222" stroke-width="0.15" text-anchor="middle" textLength="48.8" lengthAdjust="spacingAndGlyphs" >15a, 20b</text>
<path d="M545.6,323.5 L549,323.5 L548.8,347 L545.8,347 Z" fill="url(#gup)"/>
<path d="M543.4,324.5 L547.3,320 L551.2,324.5 Z" fill="#44a048"/>
<rect x="409" y="387" width="53" height="40.5" rx="5" fill="#afafaf"/>
<text x="409.5" y="405.8" font-size="12" fill="#222" stroke="#222" stroke-width="0.15" textLength="52.8" lengthAdjust="spacingAndGlyphs" >miR-659,</text>
<text x="427" y="420.8" font-size="12" fill="#222" stroke="#222" stroke-width="0.15" textLength="19" lengthAdjust="spacingAndGlyphs" >510</text>
<path d="M399.8,388.6 L402.6,388.6 L402.9,415 L399.5,415 Z" fill="url(#rdown)"/>
<path d="M397.2,414.5 L401.2,418.5 L405.2,414.5 Z" fill="#b03040"/>
<rect x="424.6" y="335.8" width="31.4" height="3.6" fill="#f6e0ea" stroke="#e2a6c2" stroke-width="1"/>
<circle cx="421.1" cy="337.6" r="4.2" fill="#fbf3f7" stroke="#e2a6c2" stroke-width="1.2"/>
<path d="M437.1,335.8 q2.2,-3.2 4.4,0" fill="#f6e0ea" stroke="#d8a0c0" stroke-width="1"/>
<rect x="445" y="353.9" width="31" height="3.6" fill="#f6e0ea" stroke="#e2a6c2" stroke-width="1"/>
<circle cx="441.5" cy="355.7" r="4.2" fill="#fbf3f7" stroke="#e2a6c2" stroke-width="1.2"/>
<path d="M457.5,353.9 q2.2,-3.2 4.4,0" fill="#f6e0ea" stroke="#d8a0c0" stroke-width="1"/>
<rect x="475.8" y="395.9" width="31.8" height="3.6" fill="#f6e0ea" stroke="#e2a6c2" stroke-width="1"/>
<circle cx="472.3" cy="397.7" r="4.2" fill="#fbf3f7" stroke="#e2a6c2" stroke-width="1.2"/>
<path d="M488.3,395.9 q2.2,-3.2 4.4,0" fill="#f6e0ea" stroke="#d8a0c0" stroke-width="1"/>
<rect x="502.9" y="408.9" width="31.8" height="3.6" fill="#f6e0ea" stroke="#e2a6c2" stroke-width="1"/>
<circle cx="499.4" cy="410.7" r="4.2" fill="#fbf3f7" stroke="#e2a6c2" stroke-width="1.2"/>
<path d="M515.4,408.9 q2.2,-3.2 4.4,0" fill="#f6e0ea" stroke="#d8a0c0" stroke-width="1"/>
<path d="M164.7,321.9 L185,349.7" stroke="#1a1a1a" stroke-width="1.5"/>
<path d="M164.7,321.9 L184,348.4" stroke="#1a1a1a" stroke-width="1.5"/>
<path d="M187.5,353.2 L180.5,349.6 L186.2,345.5 Z" fill="#1a1a1a"/>
<path d="M241.5,438.4 L259.9,464.8" stroke="#1a1a1a" stroke-width="1.5"/>
<path d="M263.3,469.7 L256.4,466 L262.2,462 Z" fill="#1a1a1a"/>
<path d="M410,560.8 L344.5,560.8" stroke="#1a1a1a" stroke-width="1.5"/>
<path d="M337,560.8 L345.5,556.8 L345.5,564.8 Z" fill="#1a1a1a"/>
<path d="M204.8,390.7 C202.6,391.9 200.1,394 199.8,398 C199.5,402 202.6,409.6 203,414.5 C203.4,419.4 201.1,424.1 202.3,427.6 C203.6,431.2 207.1,434.3 210.5,435.8 C213.9,437.3 219.1,437.7 222.8,436.6 C226.5,435.5 229.4,431.5 232.7,429.2 C236,426.9 239.2,425.7 242.5,422.7 C245.8,419.7 250.8,415.2 252.3,411.2 C253.8,407.2 253.4,402.6 251.5,398.9 C249.6,395.2 244.3,390.5 240.9,389 C237.5,387.5 232.9,388.6 231,389.8 C229.1,391 230.5,393.6 229.4,396.4 C228.3,399.1 226.4,405.1 224.5,406.3 C222.6,407.5 219.3,405.5 217.9,403.8 C216.5,402.1 217.1,398.6 216.3,396.4 C215.5,394.2 214.9,391.6 213,390.7 C211.1,389.8 207,389.5 204.8,390.7Z" fill="#5fadb5"/>
<circle cx="208.3" cy="343.7" r="3.9" fill="#2e8fbf"/>
<circle cx="226" cy="342.4" r="3.9" fill="#2e8fbf"/>
<circle cx="239.6" cy="354.1" r="3.9" fill="#2e8fbf"/>
<circle cx="188" cy="372.7" r="3.9" fill="#2e8fbf"/>
<circle cx="226.3" cy="375" r="3.9" fill="#2e8fbf"/>
<circle cx="243" cy="380.6" r="3.9" fill="#2e8fbf"/>
<circle cx="197" cy="391.1" r="3.9" fill="#2e8fbf"/>
<circle cx="222.8" cy="394.8" r="3.9" fill="#2e8fbf"/>
<text x="201.2" y="373.9" font-size="16.9" fill="#1a1a1a" stroke="#1a1a1a" stroke-width="0.15" textLength="19.2" lengthAdjust="spacingAndGlyphs" >Ca</text>
<text x="221.8" y="366.7" font-size="9.5" fill="#1a1a1a" stroke="#1a1a1a" stroke-width="0.15" textLength="10" lengthAdjust="spacingAndGlyphs" >2+</text>
<text x="209.1" y="422.8" font-size="12.4" fill="#14282e" stroke="#14282e" stroke-width="0.15" textLength="26.2" lengthAdjust="spacingAndGlyphs" >CAM</text>
<text x="173.8" y="490.8" font-size="11.8" fill="#222" stroke="#222" stroke-width="0.15" textLength="70.2" lengthAdjust="spacingAndGlyphs" >L-ARGININE</text>
<text x="208.9" y="508.6" font-size="11.5" fill="#222" stroke="#222" stroke-width="0.15" text-anchor="middle" >+</text>
<text x="202.6" y="526.5" font-size="12.2" fill="#222" stroke="#222" stroke-width="0.15" textLength="8.3" lengthAdjust="spacingAndGlyphs" >O</text>
<text x="211.3" y="528.6" font-size="8" fill="#222" stroke="#222" stroke-width="0.15" textLength="3.8" lengthAdjust="spacingAndGlyphs" >2</text>
<text x="186.6" y="572.5" font-size="11.8" fill="#222" stroke="#222" stroke-width="0.15" textLength="54.4" lengthAdjust="spacingAndGlyphs" >Citrulline</text>
<text x="213.8" y="589.6" font-size="11.5" fill="#222" stroke="#222" stroke-width="0.15" text-anchor="middle" >+</text>
<text x="204.8" y="607.5" font-size="11.8" fill="#222" stroke="#222" stroke-width="0.15" textLength="18.1" lengthAdjust="spacingAndGlyphs" >NO</text>
<path d="M220.6,510 L224.1,510.6 L227.5,511.5 L230.7,512.6 L233.7,514 L236.5,515.6 L239,517.3 L241.4,519.3 L243.6,521.4 L245.5,523.7 L247.2,526.1 L248.7,528.6 L250,531.2 L251.3,533.7 L252.3,536.4 L253.2,539.2 L253.8,542 L254.2,544.8 L254.3,547.7 L254.3,550.6 L253.9,553.5 L253.4,556.4 L252.6,559.3 L251.5,562.1 L250.2,564.8 L248.6,567.5 L246.7,570.1 L244.6,572.6 L242.2,575.1 L239.4,577.3 L236.4,579.5 L239.6,584.5 L243.1,582.1 L246.2,579.5 L249,576.7 L251.5,573.8 L253.6,570.8 L255.5,567.7 L257,564.4 L258.3,561.1 L259.2,557.8 L259.9,554.4 L260.2,551 L260.3,547.6 L260.1,544.3 L259.7,540.9 L259,537.7 L258,534.5 L256.8,531.3 L255.3,528.3 L253.4,525.5 L251.4,522.9 L249.1,520.5 L246.6,518.2 L243.9,516.2 L241,514.3 L238,512.7 L234.8,511.4 L231.5,510.3 L228,509.5 L224.4,509 L220.6,508.8Z M225,589 L233.6,576.1 L240.4,587.9 Z" fill="#e0782e"/>
<path d="M307.1,509.3 C307.8,505.1 310.4,505.4 312.4,505 C314.3,504.6 317.4,504.8 318.8,506.6 C320.2,508.4 319.9,513.7 321,515.7 C322.1,517.8 323.6,519.1 325.2,518.9 C326.8,518.7 329.4,516.6 330.5,514.6 C331.6,512.6 330,508.9 331.6,507.1 C333.2,505.3 337.3,503.2 340.1,503.9 C342.9,504.6 346.8,508.4 348.6,511.4 C350.4,514.4 351.1,518.5 350.7,522 C350.3,525.5 348.6,530 346.5,532.7 C344.4,535.4 341.2,536.2 338,538 C334.8,539.8 331,542.1 327.3,543.3 C323.6,544.5 319.2,547.2 316,545 C312.8,542.8 309.5,536 308,530 C306.5,524 306.4,513.5 307.1,509.3Z" fill="#5fadb5"/>
<ellipse cx="325.6" cy="514.5" rx="4.6" ry="4" fill="#fff"/>
<circle cx="325.2" cy="509.3" r="3.7" fill="#2e8fbf"/>
<path d="M265.6,519.9 C268.4,517.7 275.9,512.7 281.6,510.9 C287.3,509.1 294.2,508.9 299.7,509.3 C305.2,509.7 311.4,511.2 314.6,513.5 C317.8,515.8 317.9,519.4 318.8,523.1 C319.7,526.8 320.2,532.2 320,535.9 C319.8,539.6 320.5,542.6 317.8,545.4 C315.1,548.2 309,551.4 303.9,552.9 C298.8,554.4 292,554.7 286.9,554.5 C281.8,554.3 276.8,553.7 273.1,551.8 C269.4,549.9 266.3,546.1 264.6,543.3 C262.9,540.5 263.8,536.9 263,534.8 C262.2,532.7 260.2,531.8 259.8,530.6 C259.4,529.4 260.1,528.5 260.9,527.4 C261.7,526.3 263.8,525.5 264.6,524.2 C265.4,523 262.8,522.1 265.6,519.9Z" fill="#e39a9f"/>
<path d="M261.4,528.4 C268,529 272,531 276.3,531.6 C282,532.5 286,533 290.1,533.7" fill="none" stroke="#cf848a" stroke-width="1.3"/>
<path d="M292.2,532.5 C292.2,531.5 295.9,528.9 298,528 C300.1,527.1 303.1,527.1 305,527.4 C306.9,527.6 309.3,528.5 309.3,529.5 C309.3,530.5 306.9,532.6 305,533.3 C303.1,534 300.1,533.8 298,533.7 C295.9,533.6 292.2,533.5 292.2,532.5Z" fill="#fff"/>
<text x="274.1" y="545.4" font-size="11.2" fill="#2a1a1a" stroke="#2a1a1a" stroke-width="0.15" textLength="32.3" lengthAdjust="spacingAndGlyphs" >eNOS</text>
<text x="320.4" y="531.4" font-size="11.2" fill="#14282e" stroke="#14282e" stroke-width="0.15" textLength="25.7" lengthAdjust="spacingAndGlyphs" >CAM</text>
<circle cx="281.1" cy="503.1" r="10.4" fill="#eef2fa" stroke="#8ea4cc" stroke-width="3.2"/>
<text x="277.6" y="509.6" font-size="15.8" fill="#1a1a1a" stroke="#1a1a1a" stroke-width="0.15" textLength="8.3" lengthAdjust="spacingAndGlyphs" >P</text>
<circle cx="378" cy="579.5" r="10.9" fill="#eef2fa" stroke="#8ea4cc" stroke-width="3.7"/>
<text x="374.5" y="586" font-size="15.8" fill="#1a1a1a" stroke="#1a1a1a" stroke-width="0.15" textLength="8.3" lengthAdjust="spacingAndGlyphs" >P</text>
<path d="M469,532 L804,532" stroke="#2a2a2a" stroke-width="2.2"/>
<path d="M425.6,553.1 L429,553.1 L428.8,584 L425.8,584 Z" fill="url(#gup)"/>
<path d="M423.4,554.1 L427.3,549.6 L431.2,554.1 Z" fill="#44a048"/>
<path d="M441.1,552.5 C443.4,549.7 449.1,543.3 454.2,541.1 C459.3,538.9 465.8,539.1 471.6,539.4 C477.4,539.7 484.2,541 489.1,542.9 C494.1,544.8 498.8,548 501.3,550.7 C503.8,553.5 503.6,555.9 503.9,559.4 C504.2,562.9 503.9,567.8 503,571.6 C502.1,575.4 501,579.2 498.7,582.1 C496.4,585 493.6,587.4 489.1,589.1 C484.6,590.9 477.4,592.3 471.6,592.6 C465.8,592.9 459.1,592.1 454.2,590.8 C449.3,589.5 444.6,587.9 442,584.7 C439.4,581.5 439.8,574.9 438.5,571.6 C437.2,568.3 434.7,566.7 434.1,564.7 C433.5,562.7 434,560.6 435,559.4 C436,558.2 439.2,558.9 440.2,557.7 C441.2,556.6 438.8,555.3 441.1,552.5Z" fill="#e39a9f"/>
<path d="M437.6,561.2 C445,562 450,563 454.2,563.8 C460,565 465,566 469.9,566.4" fill="none" stroke="#cf848a" stroke-width="1.3"/>
<path d="M472.5,565.5 C472.2,564.4 475.6,560.8 478,559.5 C480.4,558.2 484.3,557.5 487,557.7 C489.7,557.9 494.1,559.1 494.3,560.5 C494.5,561.9 490.4,565 488,566 C485.6,567 482.6,566.5 480,566.4 C477.4,566.3 472.8,566.6 472.5,565.5Z" fill="#fff"/>
<text x="455.5" y="582.6" font-size="14" fill="#2a1a1a" stroke="#2a1a1a" stroke-width="0.15" textLength="37.9" lengthAdjust="spacingAndGlyphs" >eNOS</text>
<path d="M533.6,553.1 L537,553.1 L536.8,582.8 L533.8,582.8 Z" fill="url(#gup)"/>
<path d="M531.4,554.1 L535.3,549.6 L539.2,554.1 Z" fill="#44a048"/>
<path d="M542.1,557.2 C541.6,555.1 542.1,551.7 545.1,550.1 C548.1,548.5 553.6,547.9 560.3,547.6 C567,547.3 577.6,547.4 585.5,548.1 C593.4,548.9 602.1,549.6 607.8,552.1 C613.5,554.6 617.9,559.7 619.9,563.2 C621.9,566.8 621.2,570.2 619.9,573.4 C618.5,576.6 616.7,580.2 611.8,582.4 C606.9,584.6 598.4,585.8 590.6,586.5 C582.9,587.2 572.4,587.2 565.3,586.5 C558.2,585.8 551.6,584.6 548.1,582.4 C544.6,580.2 544.1,575.6 544.1,573.4 C544.1,571.2 545.6,570.4 548.1,569.3 C550.6,568.2 557.2,567.7 559,566.8 C560.8,565.9 560.8,564.7 559,564 C557.2,563.3 550.9,563.8 548.1,562.7 C545.3,561.6 542.6,559.3 542.1,557.2Z" fill="#7ab8ac"/>
<text x="548.1" y="559.7" font-size="14" fill="#10282a" stroke="#10282a" stroke-width="0.15" textLength="34.4" lengthAdjust="spacingAndGlyphs" >CuZn</text>
<text x="548.1" y="580.4" font-size="14" fill="#10282a" stroke="#10282a" stroke-width="0.15" textLength="71.8" lengthAdjust="spacingAndGlyphs" >dismutase</text>
<path d="M584.7,594.5 L584.7,615 M579.6,615 L590.6,615" stroke="#a04050" stroke-width="2"/>
<path d="M623.8,613.2 L606,632 L594.9,618.3 L585,632 L566.8,615.7 L574,636 L538.7,626 L567,646 L540.4,646.4 L566,656 L531,672.8 L574,667 L566,686.4 L587,671 L595,683.8 L603,671 L628,686.4 L616,667 L640.9,668.5 L622,657 L664.7,649 L622,642 L637.4,630.7 L614,636 Z" fill="#7090cc"/>
<text x="569.4" y="641.6" font-size="12.5" fill="#1a2040" stroke="#1a2040" stroke-width="0.15" textLength="45.9" lengthAdjust="spacingAndGlyphs" >Cellular</text>
<text x="565.6" y="656.6" font-size="12.5" fill="#1a2040" stroke="#1a2040" stroke-width="0.15" textLength="54" lengthAdjust="spacingAndGlyphs" >oxidative</text>
<text x="574.9" y="672.6" font-size="12.5" fill="#1a2040" stroke="#1a2040" stroke-width="0.15" textLength="35.2" lengthAdjust="spacingAndGlyphs" >stress</text>
<path d="M648.8,556.9 L652.2,556.9 L652,587.3 L649,587.3 Z" fill="url(#gup)"/>
<path d="M646.6,557.9 L650.5,553.4 L654.4,557.9 Z" fill="#44a048"/>
<path d="M658.5,572.6 C658.9,567.6 659.2,557.8 662.8,553.4 C666.3,549 673.1,546.9 679.8,546 C686.5,545.1 696.8,544.7 703.2,548.1 C709.6,551.5 715.5,561.1 718.1,566.2 C720.8,571.4 720.5,576.2 719.1,579 C717.7,581.8 713.7,583.4 709.6,583.2 C705.5,583 699.3,578.6 694.7,577.9 C690.1,577.2 686.2,577.7 681.9,578.9 C677.6,580.1 672.6,584.6 669.1,585.3 C665.6,586 662.4,585.3 660.6,583.2 C658.8,581.1 658.1,577.6 658.5,572.6Z" fill="#7b93c8"/>
<text x="669.3" y="568.8" font-size="14.6" fill="#1a1a2a" stroke="#1a1a2a" stroke-width="0.15" textLength="35.4" lengthAdjust="spacingAndGlyphs" >VEGF</text>
<path d="M750.6,556.9 L754,556.9 L753.8,587.3 L750.8,587.3 Z" fill="url(#gup)"/>
<path d="M748.4,557.9 L752.3,553.4 L756.2,557.9 Z" fill="#44a048"/>
<path d="M758.5,576.8 C758.9,571.5 760.3,561.5 764.9,555.5 C769.5,549.5 778.4,543.8 786.2,540.6 C794,537.4 803.9,535.7 811.7,536.4 C819.5,537.1 828.2,539.9 833,544.9 C837.8,549.9 839.7,560.2 840.4,566.2 C841.1,572.2 840.6,577.7 837.2,581.1 C833.8,584.5 826.6,586 820.2,586.4 C813.8,586.8 806,582.7 798.9,583.2 C791.8,583.7 783.7,588.9 777.7,589.6 C771.7,590.3 766,589.5 762.8,587.4 C759.6,585.3 758.1,582.1 758.5,576.8Z" fill="#7ab898"/>
<text x="789.8" y="552.2" font-size="13" fill="#1a2a20" stroke="#1a2a20" stroke-width="0.15" textLength="25.2" lengthAdjust="spacingAndGlyphs" >Pro-</text>
<text x="768.7" y="567.9" font-size="13" fill="#1a2a20" stroke="#1a2a20" stroke-width="0.15" textLength="67.3" lengthAdjust="spacingAndGlyphs" >autophagic</text>
<text x="777.6" y="583.4" font-size="13" fill="#1a2a20" stroke="#1a2a20" stroke-width="0.15" textLength="49.6" lengthAdjust="spacingAndGlyphs" >bacilin-1</text>
<path d="M797,599.2 L802.6,599.2 L798.9,610.6 L802.9,611.8 L798.6,623.6 L802.2,624.4 L793.2,644.6 L795.3,628.2 L793.6,627.6 L797.4,615.6 L793.5,614.8 Z" fill="#c8283a"/>
<path d="M760.3,642.3 L763.1,642.3 L763.4,669.3 L760,669.3 Z" fill="url(#rdown)"/>
<path d="M757.7,668.8 L761.7,672.8 L765.7,668.8 Z" fill="#b03040"/>
<text x="769.9" y="662.2" font-size="13" fill="#222" stroke="#222" stroke-width="0.15" textLength="59.7" lengthAdjust="spacingAndGlyphs" >Apoptosis</text>
<path d="M54.5,547 C56.9,547.2 60.6,547.5 63,549.5 C65.3,551.5 68.2,555.7 68.6,559 C69,562.3 68,566.4 65.5,569.5 C63,572.6 56,574.4 53.5,577.5 C51,580.6 50.7,580.9 50.2,588 C49.7,595.1 50,609.7 50.5,620 C51,630.3 52.5,639.7 53.5,650 C54.5,660.3 56,674.6 56.2,682 C56.5,689.4 56.6,691.6 55,694.2 C53.4,696.8 49.3,697.8 46.7,697.6 C44.1,697.4 41.1,698.4 39.4,693 C37.7,687.6 37.8,675.2 36.2,665 C34.7,654.8 32.2,642.1 30,631.7 C27.8,621.3 25.5,609.8 23.2,602.6 C20.9,595.4 17.7,593.4 16.3,588.5 C15,583.6 14.4,577.3 15.1,573.3 C15.8,569.3 18.2,565.7 20.5,564.5 C22.8,563.3 25.8,566.3 29,566 C32.2,565.7 37.2,564.5 39.5,562.5 C41.8,560.5 41.5,556.4 43,554 C44.5,551.6 46.5,549.5 48.4,548.3 C50.3,547.1 52.1,546.8 54.5,547Z" fill="#d4b995" stroke="#e4d0b4" stroke-width="2"/>
<path d="M35,607 C39,614 44,640 48,665 C50,678 51.5,686 51,690 C49,695 43.5,695 42.5,689 C40,670 36,640 33,612 Z" fill="#c4525a"/>
<path d="M34.5,612 C38,635 42,660 46.5,690" fill="none" stroke="#7a2434" stroke-width="1.4"/>
<path d="M34,609 L31,596 M35,604 L38,590" fill="none" stroke="#8a5a50" stroke-width="0.6"/>
<rect x="116" y="620" width="71" height="56" rx="5" fill="#afafaf"/>
<text x="137" y="633.7" font-size="12" fill="#222" stroke="#222" stroke-width="0.15" textLength="30.9" lengthAdjust="spacingAndGlyphs" >VEGF</text>
<text x="136.2" y="651.9" font-size="12" fill="#222" stroke="#222" stroke-width="0.15" textLength="31.7" lengthAdjust="spacingAndGlyphs" >SDF-1</text>
<text x="131.5" y="669" font-size="12" fill="#222" stroke="#222" stroke-width="0.15" textLength="41.8" lengthAdjust="spacingAndGlyphs" >MMP-9</text>
<path d="M115.6,660.3 L114,660.7 L112.4,661.1 L110.8,661.4 L109.2,661.8 L107.6,662.2 L106.1,662.6 L104.5,662.9 L103,663.3 L101.4,663.7 L99.9,664 L98.4,664.4 L96.9,664.8 L95.4,665.2 L93.9,665.5 L92.4,665.9 L90.9,666.2 L89.5,666.6 L88,667 L86.6,667.3 L85.2,667.7 L83.8,668 L82.4,668.4 L81,668.7 L79.7,669.1 L78.3,669.4 L77,669.8 L75.7,670.1 L74.4,670.4 L73.1,670.8 L71.8,671.1 L73.2,675.9 L74.4,675.5 L75.7,675.2 L77,674.8 L78.3,674.4 L79.6,674 L80.9,673.6 L82.3,673.2 L83.6,672.8 L85,672.4 L86.4,672 L87.8,671.6 L89.2,671.2 L90.6,670.8 L92,670.4 L93.5,670 L94.9,669.6 L96.4,669.2 L97.9,668.8 L99.4,668.3 L100.9,667.9 L102.4,667.5 L103.9,667.1 L105.5,666.7 L107,666.2 L108.6,665.8 L110.1,665.4 L111.7,665 L113.3,664.5 L114.8,664.1 L116.4,663.7Z M52.3,678 L70.7,665.2 L74.3,681.8 Z" fill="#1b7a36" />
<path d="M198,618.6 C194,624 190,628 186,630.7" fill="none" stroke="#8ac8a0" stroke-width="1.5"/>
<circle cx="40" cy="710.8" r="11.6" fill="#cacaca" stroke="#b8b8b8" stroke-width="1.2"/>
<circle cx="40" cy="710.8" r="5.8" fill="#8a8a8a"/>
<circle cx="72" cy="708.5" r="11.6" fill="#cacaca" stroke="#b8b8b8" stroke-width="1.2"/>
<circle cx="72" cy="708.5" r="5.8" fill="#8a8a8a"/>
<circle cx="66.2" cy="726.8" r="11.6" fill="#cacaca" stroke="#b8b8b8" stroke-width="1.2"/>
<circle cx="66.2" cy="726.8" r="5.8" fill="#8a8a8a"/>
<circle cx="100.2" cy="722.4" r="11.6" fill="#cacaca" stroke="#b8b8b8" stroke-width="1.2"/>
<circle cx="100.2" cy="722.4" r="5.8" fill="#8a8a8a"/>
<circle cx="45" cy="740.4" r="11.6" fill="#cacaca" stroke="#b8b8b8" stroke-width="1.2"/>
<circle cx="45" cy="740.4" r="5.8" fill="#8a8a8a"/>
<circle cx="74" cy="747.7" r="11.6" fill="#cacaca" stroke="#b8b8b8" stroke-width="1.2"/>
<circle cx="74" cy="747.7" r="5.8" fill="#8a8a8a"/>
<text x="90.9" y="751.5" font-size="18.7" fill="#1a1a1a" stroke="#1a1a1a" stroke-width="0.15" textLength="32.2" lengthAdjust="spacingAndGlyphs" >EPC</text>
<text y="802" font-size="18" fill="#1a1a1a" font-weight="bold"><tspan x="5">Fig.</tspan><tspan x="40">2.</tspan></text>
<text x="59.5" y="802" font-size="18" fill="#1a1a1a" textLength="833" lengthAdjust="spacing">Schematic representation of effect of vitamin D3 on EPCs and/or endothelial cells. Binding of vitamin D to</text>
</svg></body></html>
